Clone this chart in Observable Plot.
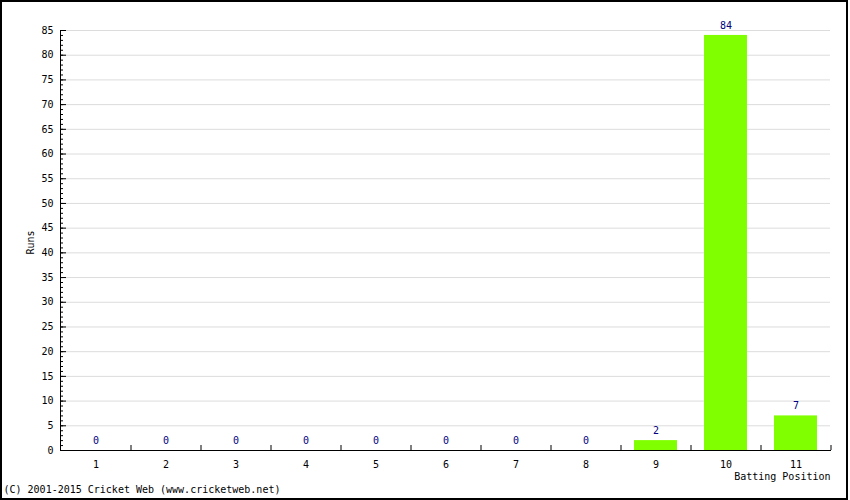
<!DOCTYPE html>
<html>
<head>
<meta charset="utf-8">
<script src="https://cdn.jsdelivr.net/npm/d3@7"></script>
<script src="https://cdn.jsdelivr.net/npm/@observablehq/plot@0.6"></script>
<style>
  html, body { margin: 0; padding: 0; background: #fff; }
  #frame { box-sizing: border-box; width: 848px; height: 500px; border: 2px solid #000; background: #fff; }
  svg { display: block; }
</style>
</head>
<body>
<div id="frame"></div>
<script>
const positions = ["1","2","3","4","5","6","7","8","9","10","11"];
const runs = [0, 0, 0, 0, 0, 0, 0, 0, 2, 84, 7];
const yMajorTicks = d3.range(0, 86, 5);
const yMinorTicks = d3.range(0, 86, 1);
const xTitle = "Batting Position";
const yTitle = "Runs";
const credit = "(C) 2001-2015 Cricket Web (www.cricketweb.net)";

const data = positions.map((p, i) => ({pos: p, runs: runs[i]}));

const W = 844, H = 496;
const ml = 58, mr = 16, mt = 28, mb = 48;
const step = (W - ml - mr) / positions.length;
const font = "DejaVu Sans Mono";
const pad = 0.386;

const chart = Plot.plot({
  width: W,
  height: H,
  marginLeft: ml,
  marginRight: mr,
  marginTop: mt,
  marginBottom: mb,
  style: {fontFamily: font, fontSize: "10px", background: "#fff", color: "#000"},
  x: {domain: positions, paddingInner: pad, paddingOuter: pad / 2, label: null},
  y: {domain: [0, 85], label: null},
  marks: [
    Plot.gridY(yMajorTicks.filter(d => d > 0), {stroke: "#dcdcdc", strokeOpacity: 1}),
    Plot.barY(data, {x: "pos", y: "runs", fill: "#80ff00"}),
    Plot.text(data, {x: "pos", y: "runs", text: d => String(d.runs), dy: -10, fill: "#000080", fontSize: 10}),
    Plot.axisY({ticks: yMinorTicks, tickSize: -3, tickFormat: () => "", stroke: "#000"}),
    Plot.axisY({ticks: yMajorTicks, tickSize: -6, tickFormat: () => "", stroke: "#000"}),
    Plot.axisY({ticks: yMajorTicks, tickSize: 0, tickPadding: 7, fill: "#000", fontSize: 10}),
    Plot.axisX({tickSize: -5, tickFormat: () => "", dx: step / 2, stroke: "#000"}),
    Plot.axisX({tickSize: 0, tickPadding: 10, fill: "#000", fontSize: 10}),
    Plot.frame({anchor: "left", stroke: "#000"}),
    Plot.frame({anchor: "bottom", stroke: "#000"}),
    Plot.text([yTitle], {frameAnchor: "left", textAnchor: "middle", rotate: -90, dx: -30, dy: 2, fill: "#000", fontSize: 10}),
    Plot.text([xTitle], {frameAnchor: "bottom-right", textAnchor: "end", dy: 29, fill: "#000", fontSize: 10}),
    Plot.text([credit], {frameAnchor: "bottom-left", textAnchor: "start", dx: -57, dy: 42, fill: "#000", fontSize: 10})
  ]
});
document.getElementById("frame").appendChild(chart);
</script>
</body>
</html>
